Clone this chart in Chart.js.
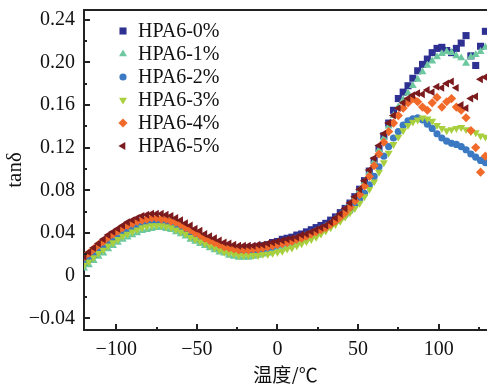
<!DOCTYPE html>
<html lang="zh">
<head>
<meta charset="UTF-8">
<title>tanδ - 温度</title>
<script src="https://cdn.jsdelivr.net/npm/chart.js"></script>
<style>
    html, body { margin: 0; padding: 0; background: #fff; overflow: hidden; }
    .chart-box { width: 487px; height: 384px; }
    canvas { display: block; }
</style>
</head>
<body>
<div class="chart-box"><canvas id="tanChart" width="487" height="384"></canvas></div>
<script>
    // temperature (°C), shared by all samples
    var temps = [-120,-117,-114,-111,-108,-105,-102,-99,-96,-93,-90,-87,-84,-81,-78,-75,-72,-69,-66,-63,
        -60,-57,-54,-51,-48,-45,-42,-39,-36,-33,-30,-27,-24,-21,-18,-15,-12,-9,-6,-3,
        0,3,6,9,12,15,18,21,24,27,30,33,36,39,42,45,48,51,54,57,
        60,63,66,69,72,75,78,81,84,87,90,93,96,99,102,105,108,111,114,117,120,123,126,129];

    // tan delta, one array per sample
    var hpa0 = [0.012,0.016,0.020,0.024,0.028,0.032,0.035,0.038,0.041,0.044,0.046,0.048,0.049,0.050,0.051,0.051,0.051,0.050,0.049,0.047,
        0.045,0.043,0.041,0.038,0.036,0.034,0.032,0.030,0.028,0.027,0.026,0.025,0.025,0.025,0.026,0.026,0.027,0.028,0.029,0.031,
        0.032,0.034,0.035,0.036,0.038,0.039,0.041,0.043,0.045,0.047,0.049,0.052,0.055,0.059,0.063,0.068,0.074,0.081,0.089,0.098,
        0.108,0.119,0.131,0.143,0.155,0.166,0.172,0.178,0.185,0.192,0.198,0.203,0.209,0.213,0.214,0.211,0.209,0.213,0.218,0.225,0.206,0.197,0.215,0.229];
    var hpa1 = [0.007,0.010,0.014,0.018,0.021,0.025,0.028,0.031,0.034,0.036,0.038,0.040,0.042,0.043,0.044,0.045,0.045,0.044,0.043,0.041,
        0.039,0.037,0.034,0.032,0.030,0.028,0.026,0.024,0.022,0.021,0.019,0.018,0.017,0.017,0.017,0.018,0.019,0.020,0.021,0.023,
        0.024,0.026,0.027,0.029,0.031,0.033,0.035,0.038,0.040,0.043,0.046,0.049,0.053,0.057,0.062,0.067,0.073,0.080,0.088,0.097,
        0.107,0.118,0.129,0.140,0.150,0.158,0.165,0.171,0.178,0.184,0.191,0.197,0.201,0.205,0.208,0.210,0.209,0.206,0.204,0.199,0.205,0.207,0.210,0.214];
    var hpa2 = [0.012,0.015,0.019,0.023,0.027,0.031,0.034,0.037,0.040,0.043,0.045,0.047,0.048,0.049,0.050,0.050,0.050,0.049,0.048,0.046,
        0.044,0.041,0.039,0.036,0.034,0.032,0.030,0.028,0.026,0.025,0.024,0.023,0.022,0.022,0.023,0.023,0.024,0.025,0.026,0.027,
        0.029,0.030,0.032,0.033,0.035,0.036,0.038,0.040,0.042,0.044,0.046,0.048,0.051,0.054,0.057,0.061,0.066,0.071,0.077,0.085,
        0.093,0.102,0.112,0.121,0.129,0.135,0.141,0.145,0.147,0.148,0.146,0.142,0.138,0.133,0.129,0.126,0.124,0.123,0.121,0.118,0.114,0.111,0.108,0.106];
    var hpa3 = [0.010,0.013,0.017,0.021,0.024,0.028,0.031,0.034,0.037,0.039,0.041,0.043,0.045,0.046,0.047,0.047,0.047,0.046,0.045,0.043,
        0.041,0.039,0.036,0.034,0.032,0.030,0.028,0.026,0.024,0.022,0.021,0.020,0.019,0.019,0.019,0.019,0.019,0.020,0.020,0.021,
        0.022,0.023,0.025,0.026,0.028,0.030,0.032,0.034,0.036,0.039,0.042,0.045,0.048,0.051,0.055,0.059,0.063,0.068,0.074,0.081,
        0.088,0.097,0.106,0.115,0.123,0.130,0.136,0.141,0.144,0.146,0.148,0.147,0.145,0.141,0.138,0.136,0.137,0.138,0.139,0.137,0.135,0.134,0.131,0.130];
    var hpa4 = [0.018,0.021,0.025,0.029,0.032,0.036,0.039,0.042,0.045,0.047,0.049,0.051,0.052,0.053,0.054,0.054,0.053,0.053,0.051,0.050,
        0.048,0.045,0.043,0.040,0.038,0.035,0.033,0.031,0.029,0.027,0.026,0.025,0.024,0.024,0.024,0.025,0.025,0.026,0.027,0.028,
        0.029,0.030,0.031,0.032,0.034,0.035,0.037,0.039,0.041,0.043,0.045,0.048,0.051,0.055,0.059,0.064,0.070,0.076,0.084,0.093,
        0.103,0.114,0.125,0.135,0.143,0.150,0.157,0.162,0.166,0.163,0.158,0.155,0.162,0.167,0.158,0.163,0.166,0.158,0.155,0.148,0.136,0.120,0.097,0.112];
    var hpa5 = [0.018,0.022,0.026,0.030,0.034,0.038,0.041,0.044,0.047,0.050,0.052,0.054,0.056,0.057,0.058,0.058,0.058,0.057,0.056,0.054,
        0.052,0.049,0.047,0.044,0.042,0.039,0.037,0.035,0.033,0.031,0.030,0.029,0.028,0.028,0.028,0.028,0.029,0.029,0.030,0.031,
        0.032,0.033,0.034,0.035,0.036,0.038,0.039,0.041,0.043,0.045,0.047,0.050,0.054,0.058,0.063,0.068,0.074,0.081,0.089,0.099,
        0.110,0.122,0.133,0.143,0.150,0.157,0.162,0.166,0.169,0.171,0.170,0.174,0.172,0.177,0.176,0.180,0.182,0.176,0.160,0.157,0.166,0.168,0.184,0.186];

    var seriesNames = ['HPA6-0%', 'HPA6-1%', 'HPA6-2%', 'HPA6-3%', 'HPA6-4%', 'HPA6-5%'];

    // axis ticks: labelled majors go to the scale, minors are only marked
    var xTickValues = [-100, -75, -50, -25, 0, 25, 50, 75, 100, 125];
    var xMajor = [-100, -50, 0, 50, 100];
    var xMajorLabels = ['\u2212100', '\u221250', '0', '50', '100'];
    var yTickValues = [-0.04, -0.02, 0, 0.02, 0.04, 0.06, 0.08, 0.10, 0.12, 0.14, 0.16, 0.18, 0.20, 0.22, 0.24];
    var yMajor = [-0.04, 0, 0.04, 0.08, 0.12, 0.16, 0.20, 0.24];
    var yMajorLabels = ['\u22120.04', '0', '0.04', '0.08', '0.12', '0.16', '0.20', '0.24'];

    var serif = "'Liberation Serif', 'Times New Roman', serif";

    function majorIndex(list, v) {
        for (var i = 0; i < list.length; i++) {
            if (Math.abs(list[i] - v) < 1e-6) return i;
        }
        return -1;
    }

    function toPoints(values) {
        return temps.map(function(t, i) { return { x: t, y: values[i] }; });
    }

    // ticks drawn inside the frame, plus the top frame line
    var inwardTicks = {
        id: 'inwardTicks',
        afterDraw: function(chart) {
            var ctx = chart.ctx, a = chart.chartArea;
            var xs = chart.scales.x, ys = chart.scales.y;
            ctx.save();
            ctx.strokeStyle = '#222';
            ctx.lineWidth = 2;
            xTickValues.forEach(function(v) {
                var px = Math.round(xs.getPixelForValue(v));
                var len = majorIndex(xMajor, v) >= 0 ? 6 : 3;
                ctx.beginPath();
                ctx.moveTo(px, a.bottom);
                ctx.lineTo(px, a.bottom - len);
                ctx.stroke();
            });
            yTickValues.forEach(function(v) {
                var py = Math.round(ys.getPixelForValue(v));
                var len = majorIndex(yMajor, v) >= 0 ? 6 : 3;
                ctx.beginPath();
                ctx.moveTo(a.left, py);
                ctx.lineTo(a.left + len, py);
                ctx.stroke();
            });
            ctx.beginPath();
            ctx.moveTo(a.left, a.top);
            ctx.lineTo(a.right, a.top);
            ctx.stroke();
            ctx.restore();
        }
    };

    // legend sitting in the upper left of the plot
    var legendInside = {
        id: 'legendInside',
        afterDatasetsDraw: function(chart) {
            var ctx = chart.ctx;
            ctx.save();
            ctx.font = '20px ' + serif;
            ctx.textBaseline = 'middle';
            chart.data.datasets.forEach(function(ds, i) {
                var y = 31 + i * 23;
                ctx.fillStyle = ds.backgroundColor;
                Chart.helpers.drawPoint(ctx, {
                    pointStyle: ds.pointStyle,
                    radius: ds.pointRadius,
                    rotation: ds.rotation || 0,
                    borderWidth: 0
                }, 123, y);
                ctx.fillStyle = '#111';
                ctx.fillText(ds.label, 138, y + 1);
            });
            ctx.restore();
        }
    };

    var styles = [
        { color: '#2E3192', shape: 'rect', radius: 5, rotation: 0 },
        { color: '#6DC8A0', shape: 'triangle', radius: 4.6, rotation: 0 },
        { color: '#3B79C3', shape: 'circle', radius: 3.6, rotation: 0 },
        { color: '#A8CF3E', shape: 'triangle', radius: 4.6, rotation: 180 },
        { color: '#F26A2A', shape: 'rectRot', radius: 4.6, rotation: 0 },
        { color: '#7B1B1E', shape: 'triangle', radius: 4.6, rotation: -90 }
    ];
    var allSeries = [hpa0, hpa1, hpa2, hpa3, hpa4, hpa5];

    var datasets = allSeries.map(function(values, i) {
        var s = styles[i];
        return {
            label: seriesNames[i],
            data: toPoints(values),
            backgroundColor: s.color,
            borderColor: s.color,
            borderWidth: 0,
            pointStyle: s.shape,
            pointRadius: s.radius,
            rotation: s.rotation,
            showLine: false,
            order: allSeries.length - i
        };
    });

    var ctx = document.getElementById('tanChart').getContext('2d');
    var tanChart = new Chart(ctx, {
        type: 'scatter',
        data: { datasets: datasets },
        options: {
            responsive: false,
            animation: false,
            devicePixelRatio: 1,
            layout: { autoPadding: false, padding: { left: 0, right: 0, top: 10, bottom: 0 } },
            plugins: {
                legend: { display: false },
                tooltip: { enabled: false }
            },
            scales: {
                x: {
                    type: 'linear',
                    min: -120,
                    max: 130,
                    afterBuildTicks: function(scale) {
                        scale.ticks = xMajor.map(function(v) { return { value: v }; });
                    },
                    afterFit: function(scale) { scale.height = 54; },
                    grid: { display: false, drawTicks: false },
                    border: { display: true, color: '#222', width: 2 },
                    ticks: {
                        autoSkip: false,
                        maxRotation: 0,
                        padding: 10,
                        color: '#111',
                        font: { family: serif, size: 20, lineHeight: 1 },
                        callback: function(v) {
                            var k = majorIndex(xMajor, v);
                            return k >= 0 ? xMajorLabels[k] : '';
                        }
                    },
                    title: {
                        display: true,
                        text: '温度/℃',
                        color: '#111',
                        padding: { top: 0, bottom: 0 },
                        font: { family: "'Noto Sans CJK SC', sans-serif", size: 19, lineHeight: 1 }
                    }
                },
                y: {
                    type: 'linear',
                    min: -0.051,
                    max: 0.249,
                    afterBuildTicks: function(scale) {
                        scale.ticks = yMajor.map(function(v) { return { value: v }; });
                    },
                    afterFit: function(scale) {
                        scale.width = 84;
                        scale.paddingTop = 0;
                        scale.paddingBottom = 0;
                    },
                    grid: { display: false, drawTicks: false },
                    border: { display: true, color: '#222', width: 2 },
                    ticks: {
                        autoSkip: false,
                        padding: 9,
                        color: '#111',
                        font: { family: serif, size: 20, lineHeight: 1 },
                        callback: function(v) {
                            var k = majorIndex(yMajor, v);
                            return k >= 0 ? yMajorLabels[k] : '';
                        }
                    },
                    title: {
                        display: true,
                        text: 'tanδ',
                        color: '#111',
                        padding: { top: 3, bottom: 0 },
                        font: { family: serif, size: 21, lineHeight: 1.2 }
                    }
                }
            }
        },
        plugins: [inwardTicks, legendInside]
    });
</script>
</body>
</html>
